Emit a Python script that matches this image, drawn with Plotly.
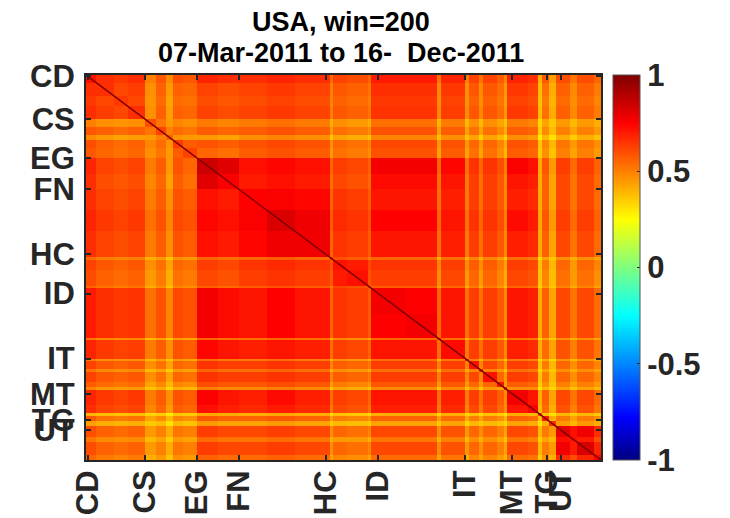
import numpy as np
import plotly.graph_objects as go

sectors = ["CD", "CS", "EG", "FN", "HC", "ID", "IT", "MT", "TG", "UT"]
sector_start = [0.5, 17, 32, 44, 69, 84, 109, 122.5, 132.5, 136.5]
n_stocks = 148
band_edges = [0, 3, 8, 12, 17, 20, 23, 25, 28, 32, 38, 44, 52, 60, 70, 71, 75, 81, 82, 92, 101,
              102, 109, 110, 113, 114, 118, 120, 121, 127, 130, 131, 133, 135, 139, 141, 146, 148]
title_lines = ["USA, win=200", "07-Mar-2011 to 16-\u00a0\u00a0Dec-2011"]

# Estimated correlation (percent) by band, upper triangle, each row starting on the diagonal
upper = [
 [72,66,64,66,50,58,48,60,58,68,66,66,68,66,54,62,60,55,70,70,52,68,50,62,52,62,57,49,68,66,40,58,44,60,52,60,55],
 [66,61,63,47,56,45,56,55,62,60,62,64,62,50,58,56,52,66,66,48,64,47,58,48,58,54,45,64,62,38,53,41,56,48,56,51],
 [64,61,46,54,43,54,53,60,58,60,62,60,49,56,54,50,64,64,47,62,46,56,47,56,52,44,62,60,37,51,40,54,47,54,49],
 [66,47,56,44,56,55,62,60,62,64,62,50,58,56,52,65,65,48,63,47,58,48,58,54,45,64,62,38,53,41,56,48,56,51],
 [60,52,45,49,47,51,49,51,53,51,41,47,45,41,53,53,39,51,39,47,39,47,43,37,51,49,33,43,36,45,39,45,41],
 [62,50,54,52,57,55,57,59,57,45,53,51,47,59,59,43,57,43,53,43,53,48,41,57,55,35,48,38,50,43,50,45],
 [56,46,45,45,43,47,49,47,37,43,41,37,49,49,37,47,37,43,35,43,39,33,47,45,29,39,31,41,35,41,37],
 [64,57,59,57,59,61,59,47,55,53,49,61,61,45,59,45,55,45,55,49,41,59,57,36,49,39,52,45,52,47],
 [62,55,53,57,59,57,45,53,51,47,59,59,43,57,43,53,43,53,47,39,57,55,35,47,37,50,43,50,45],
 [85,81,72,74,72,55,63,61,56,77,77,55,74,53,65,55,65,60,50,76,72,42,58,45,63,54,63,56],
 [76,70,72,70,53,61,59,54,73,73,53,71,51,63,53,63,58,48,71,69,41,56,43,61,52,61,54],
 [75,76,74,55,65,63,57,71,71,53,69,51,63,53,63,58,48,69,67,41,56,43,61,52,61,54],
 [82,78,57,67,65,59,75,75,55,71,53,65,55,65,60,50,73,70,42,58,45,63,54,63,56],
 [78,55,65,63,57,71,71,53,69,51,63,53,63,58,48,69,67,41,56,43,61,52,61,54],
 [70,59,57,51,55,55,41,53,41,49,41,49,45,37,53,51,33,43,36,47,41,47,43],
 [72,70,61,65,65,49,63,47,57,47,57,51,43,63,61,37,51,39,55,45,55,49],
 [72,59,63,63,47,61,45,55,45,55,49,41,61,59,36,49,38,53,45,53,47],
 [66,57,57,43,55,41,51,41,51,45,37,55,53,33,45,36,49,41,49,43],
 [77,75,55,71,53,63,53,63,58,48,71,69,41,56,43,61,52,61,54],
 [77,55,71,53,63,53,63,58,48,71,69,41,56,43,61,52,61,54],
 [68,53,41,49,41,49,45,37,53,51,33,43,36,47,41,47,43],
 [73,51,63,53,63,58,48,69,67,41,54,43,59,50,59,52],
 [70,49,41,49,45,37,51,49,33,41,33,45,39,45,41],
 [72,49,61,55,45,63,61,37,51,39,55,47,55,49],
 [68,49,45,37,53,51,33,43,36,47,41,47,43],
 [72,55,45,63,61,37,51,39,55,47,55,49],
 [72,43,57,55,35,47,37,50,43,50,45],
 [68,47,47,31,39,33,43,37,43,39],
 [77,71,41,56,43,61,52,61,54],
 [75,39,54,41,59,50,59,52],
 [64,37,31,39,35,39,35],
 [70,41,51,43,51,47],
 [66,45,39,45,41],
 [80,72,78,66],
 [72,70,60],
 [82,68],
 [76],
]

n = len(upper)
z = np.zeros((n, n))
for i, row in enumerate(upper):
    assert len(row) == n - i, (i, len(row))
    for k, v in enumerate(row):
        z[i, i + k] = z[i + k, i] = v / 100

jet = [[0, "#000080"], [0.11, "#0000ff"], [0.375, "#00ffff"], [0.625, "#ffff00"],
       [0.875, "#ff0000"], [1, "#800000"]]
ink = "#262626"
tick_font = dict(family="Liberation Sans", size=31, color=ink, weight="bold")

fig = go.Figure()
fig.add_trace(go.Heatmap(
    x=band_edges, y=band_edges, z=z, zmin=-1, zmax=1, colorscale=jet, hoverongaps=False,
    colorbar=dict(x=1.023, xanchor="left", xpad=0, ypad=0, y=0.5, yanchor="middle", len=1,
                  thickness=27, outlinecolor="#555555", outlinewidth=1,
                  tickvals=[-1, -0.5, 0, 0.5, 1], ticktext=["-1", "-0.5", "0", "0.5", "1"],
                  ticks="inside", ticklen=3, tickcolor=ink, tickfont=tick_font),
))
fig.add_trace(go.Scatter(x=[0, n_stocks], y=[0, n_stocks], mode="lines",
                         line=dict(color="#800000", width=1.5), showlegend=False, hoverinfo="skip"))

axis = dict(tickvals=sector_start, ticktext=sectors, ticks="inside", ticklen=5, tickwidth=1.5,
            tickcolor=ink, showline=True, linecolor=ink, linewidth=2, mirror="allticks",
            showgrid=False, zeroline=False, tickfont=tick_font, automargin=False)
fig.update_xaxes(range=[0, n_stocks], tickangle=-90, ticklabelstandoff=-4, **axis)
fig.update_yaxes(range=[n_stocks, 0], ticklabelstandoff=3, **axis)

title_font = dict(family="Liberation Sans", size=27, color="black", weight="bold")
for line, shift in zip(title_lines, [53, 22]):
    fig.add_annotation(text=line, xref="paper", yref="paper", x=0.495, y=1, xanchor="center",
                       yanchor="middle", yshift=shift, showarrow=False, font=title_font)

fig.update_layout(
    width=722, height=510, autosize=False, showlegend=False,
    paper_bgcolor="white", plot_bgcolor="white",
    margin=dict(l=78, r=129, t=67, b=58),
)
fig.write_html("out.html")
